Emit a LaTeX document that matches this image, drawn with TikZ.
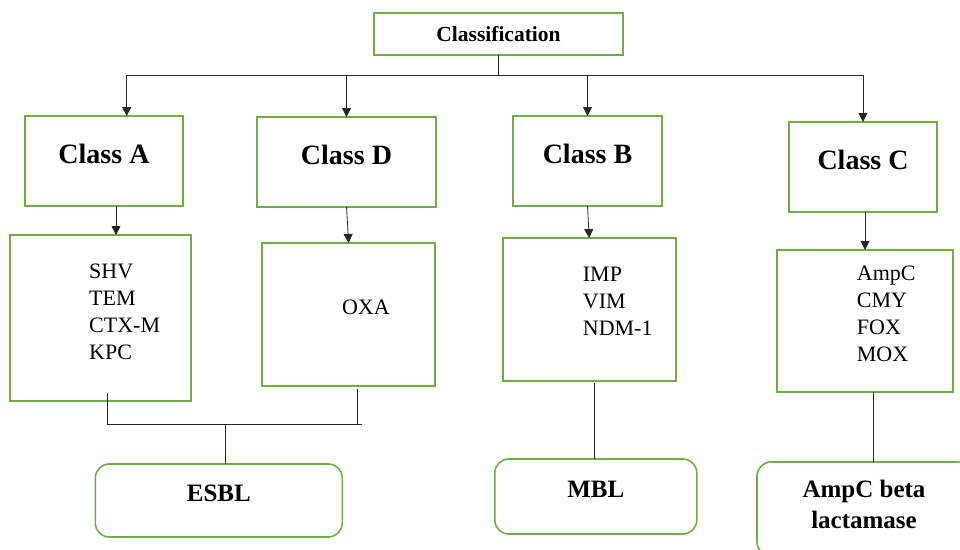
\documentclass[tikz,border=0pt]{standalone}
\usepackage{fontspec}
\setmainfont{Liberation Serif}
\usepackage{xcolor}
\usepackage{tikz}
\usetikzlibrary{arrows.meta,positioning,calc}
\definecolor{boxgreen}{RGB}{112,173,71}

\begin{document}
\begin{tikzpicture}[x=1pt,y=-1pt, >={Triangle[width=9pt,length=9pt]},
  box/.style={draw=boxgreen,line width=1.6pt,inner sep=0pt,outer sep=0pt},
  head/.style={box,font=\bfseries\fontsize{28}{32}\selectfont,text depth=14pt},
  kinds/.style={inner sep=0pt,align=left,font=\fontsize{22}{27}\selectfont},
  group/.style={box,rounded corners=14pt,font=\bfseries\fontsize{25}{31}\selectfont},
  conn/.style={draw=black!85,line width=0.8pt}]
\clip (0,0) rectangle (960,549);
\node[box,minimum width=249pt,minimum height=42pt,font=\bfseries\fontsize{21.5}{25}\selectfont](cls) at (498.5,34){Classification};
\node[head,minimum width=158pt,minimum height=90pt](clsA) at (104,161){Class A};
\node[head,minimum width=179pt,minimum height=90pt,right=74pt of clsA,yshift=-1pt](clsD){Class D};
\node[head,minimum width=149pt,minimum height=90pt,right=77pt of clsD,yshift=1pt](clsB){Class B};
\node[head,minimum width=148pt,minimum height=90pt,right=127pt of clsB,yshift=-6pt](clsC){Class C};
\node[box,minimum width=181pt,minimum height=166pt,below=29pt of clsA,xshift=-3.5pt](listA){};
\node[box,minimum width=173pt,minimum height=143pt,below=36pt of clsD,xshift=2.2pt](oxaBox){};
\node[box,minimum width=173pt,minimum height=143pt,below=32pt of clsB,xshift=1.7pt](impBox){};
\node[box,minimum width=176pt,minimum height=142pt,below=38pt of clsC,xshift=1.7pt](ampBox){};
\node[kinds,below right=28.3pt and 79pt of listA.north west](listAtxt){SHV\\TEM\\CTX-M\\KPC};
\node[kinds,below right=56.7pt and 79.6pt of oxaBox.north west](oxaTxt){OXA};
\node[kinds,below right=28.4pt and 80pt of impBox.north west](impTxt){IMP\\VIM\\NDM-1};
\node[kinds,below right=16pt and 80pt of ampBox.north west](ampTxt){AmpC\\CMY\\FOX\\MOX};
\node[group,minimum width=247pt,minimum height=73pt,text depth=15pt,below=78pt of oxaBox,xshift=-129.9pt](esbl){ESBL};
\node[group,minimum width=202pt,minimum height=75pt,text depth=15pt,below=78pt of impBox,xshift=6.6pt](mbl){MBL};
\node[group,minimum width=214pt,minimum height=94pt,text depth=10pt,align=center,below=70pt of ampBox,xshift=-0.7pt](ampbl){AmpC beta\\lactamase};
% top bus
\coordinate (busL) at (126.7,75);
\draw[conn](cls.south)--(cls.south |- busL);
\draw[conn](busL)--(clsC.north |- busL);
\draw[conn,->](busL)--(busL |- clsA.north);
\draw[conn,->](clsD.north |- busL)--(clsD.north);
\draw[conn,->](clsB.north |- busL)--(clsB.north);
\draw[conn,->](clsC.north |- busL)--(clsC.north);
% class to members
\draw[conn,->]([xshift=12pt]clsA.south)--([xshift=12pt]clsA.south |- listA.north);
\draw[conn,->](clsD.south)--(oxaBox.north);
\draw[conn,->](clsB.south)--(impBox.north);
\draw[conn,->]([xshift=2pt]clsC.south)--([xshift=2pt]clsC.south |- ampBox.north);
% members to groups
\coordinate (jy) at (0,424.5);
\draw[conn]([xshift=6.5pt,yshift=8pt]listA.south)--([xshift=6.5pt]listA.south |- jy)--([xshift=13pt]oxaBox.south |- jy);
\draw[conn]([xshift=9pt,yshift=-3pt]oxaBox.south)--([xshift=9pt]oxaBox.south |- jy);
\draw[conn]([xshift=7pt]esbl.north)--([xshift=7pt]esbl.north |- jy);
\draw[conn]([xshift=-1.5pt,yshift=-2pt]mbl.north |- impBox.south)--([xshift=-1.5pt]mbl.north);
\draw[conn]([xshift=9pt]ampbl.north)--([xshift=9pt]ampbl.north |- ampBox.south);
\end{tikzpicture}
\end{document}
